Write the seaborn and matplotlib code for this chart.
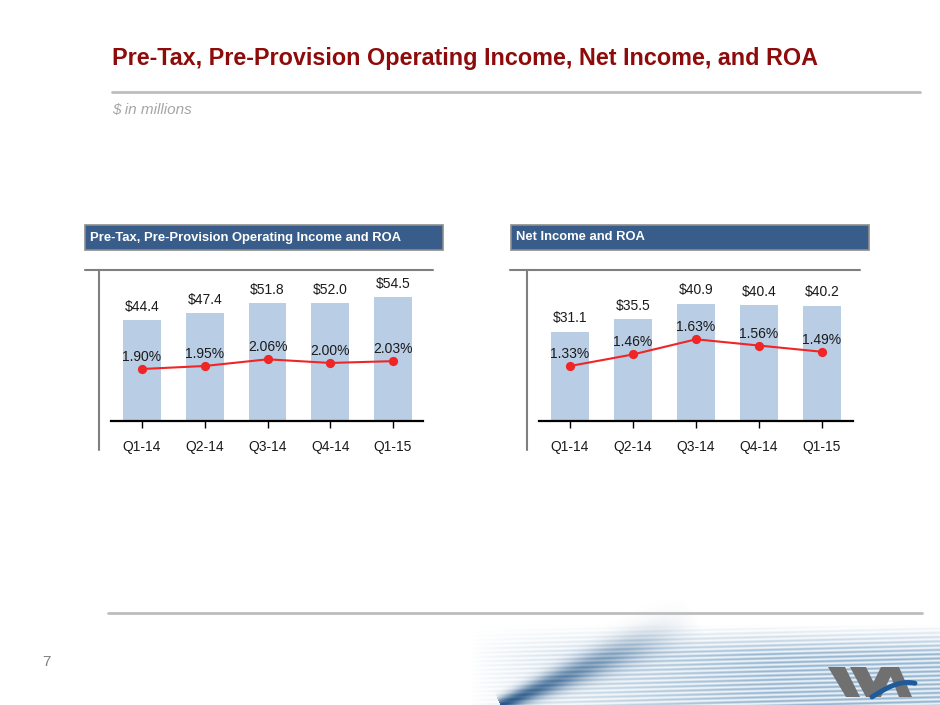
import numpy as np
import pandas as pd
import matplotlib
matplotlib.use("Agg")
import matplotlib.pyplot as plt
import seaborn as sns
from matplotlib.patches import Rectangle, Polygon

# ---- data ----
quarters = ["Q1-14", "Q2-14", "Q3-14", "Q4-14", "Q1-15"]
pppoi = [44.4, 47.4, 51.8, 52.0, 54.5]
pppoi_roa = [1.90, 1.95, 2.06, 2.00, 2.03]
net_income = [31.1, 35.5, 40.9, 40.4, 40.2]
net_roa = [1.33, 1.46, 1.63, 1.56, 1.49]

title = "Pre-Tax, Pre-Provision Operating Income, Net Income, and ROA"
subtitle = "$ in millions"
header_left = "Pre-Tax, Pre-Provision Operating Income and ROA"
header_right = "Net Income and ROA"

sns.set_theme(style="white")
plt.rcParams['font.family'] = ['Liberation Sans', 'DejaVu Sans']

W, H = 940, 705
fig = plt.figure(figsize=(9.4, 7.05), dpi=100)
fig.patch.set_facecolor("white")
bg = fig.add_axes([0, 0, 1, 1], zorder=0)
bg.set_xlim(0, W)
bg.set_ylim(H, 0)
bg.axis('off')


def fx(x):
    return x / W


def fy(y):
    return 1 - y / H


# ---- decorative bottom stripes ----
ys = np.arange(600, 706)
xs = np.arange(300, 941)
X, Y = np.meshgrid(xs, ys)
phase = Y + (X - 940) * 0.025
stripe = 0.5 + 0.5 * np.cos(2 * np.pi * phase / 4.3)
wx = np.clip((X - 470) / 300, 0, 1) ** 0.8
wy = np.clip((Y - 624) / 30, 0, 1)
a_str = stripe * wx * wy * 0.6 + wx * wy * 0.15
# diagonal band
p0 = np.array([500.0, 705.0]); p1 = np.array([700.0, 618.0])
d = p1 - p0; L = np.hypot(*d); u = d / L; nrm = np.array([-u[1], u[0]])
t = ((X - p0[0]) * u[0] + (Y - p0[1]) * u[1]) / L
dist = (X - p0[0]) * nrm[0] + (Y - p0[1]) * nrm[1]
a_band = np.exp(-(dist / (7 + 14 * np.clip(t, 0, 1))) ** 2) * np.clip(1 - t, 0, 1) ** 1.2 * 0.9
a_band[t < 0] = 0
alpha = np.clip(a_str + a_band, 0, 1)
col_str = np.array([115, 158, 195]) / 255
col_band = np.array([30, 78, 128]) / 255
wb = a_band / np.maximum(alpha, 1e-6)
rgb = col_str[None, None, :] * (1 - wb[..., None]) + col_band[None, None, :] * wb[..., None]
img = np.dstack([rgb, alpha])
bg.imshow(img, extent=[300, 941, 706, 600], origin='upper', aspect='auto', zorder=0,
          interpolation='bilinear')
bg.set_xlim(0, W)
bg.set_ylim(H, 0)

# logo approximation
gray = "#707070"
for poly in [
    [(828, 667), (845, 667), (860, 697), (846, 697)],
    [(850, 667), (866, 667), (881, 697), (866, 697)],
    [(866, 697), (881, 697), (895, 667), (881, 667)],
    [(887, 667), (899, 667), (912, 697), (899, 697)],
]:
    bg.add_patch(Polygon(poly, closed=True, facecolor=gray, edgecolor="none", zorder=3))
tt = np.linspace(0, 1, 30)
arc_x = 872 + 43 * tt
arc_y = 697 - 18 * np.sin(tt * np.pi / 2 * 1.1) + 4 * tt
bg.plot(arc_x, arc_y, color="#1F5A99", lw=3.5, solid_capstyle='round', zorder=4)

# ---- title area ----
bg.text(112, 59, title, color="#8E0B0B", fontsize=16.8, fontweight="bold",
        va="center", ha="left")
bg.plot([112, 920], [92, 92], color="#BDBDBD", lw=2, zorder=1)
bg.text(112, 110, subtitle, color="#A6A6A6", fontsize=11, style="italic",
        va="center", ha="left")
bg.plot([108, 922], [613, 613], color="#BDBDBD", lw=2, zorder=1)
bg.text(42, 662, "7", color="#808080", fontsize=11, va="center", ha="left")


def panel(x0, x1, c0, spacing, header, hx0, hx1, vline_x, tl0, tl1,
          values, roa, ymax, rlim):
    base_y, top_y = 421, 270
    ax = fig.add_axes([fx(x0), fy(base_y), fx(x1) - fx(x0), fy(top_y) - fy(base_y)],
                      zorder=2)
    ax.patch.set_alpha(0)
    df = pd.DataFrame({"q": quarters, "v": values, "r": roa})
    sns.barplot(data=df, x="q", y="v", color="#B9CDE5", saturation=1, width=0.6,
                linewidth=0, errorbar=None, ax=ax)
    ax2 = ax.twinx()
    sns.pointplot(data=df, x="q", y="r", color="#F02525", markers="o",
                  markersize=5.5, linewidth=1.5, errorbar=None, ax=ax2)
    xlo = (x0 - c0) / spacing
    xhi = (x1 - c0) / spacing
    ax.set_xlim(xlo, xhi)
    ax2.set_xlim(xlo, xhi)
    ax.set_ylim(0, ymax)
    ax2.set_ylim(*rlim)
    for a in (ax, ax2):
        for s in ("top", "left", "right"):
            a.spines[s].set_visible(False)
        a.set_ylabel("")
        a.set_xlabel("")
        a.set_yticks([])
    ax2.spines["bottom"].set_visible(False)
    ax.spines["bottom"].set_color("black")
    ax.spines["bottom"].set_linewidth(1.6)
    ax.tick_params(axis="x", bottom=True, length=5, width=1, color="black",
                   direction="out", labelsize=10, pad=8.5, labelcolor="#1a1a1a")
    ax2.tick_params(axis="x", bottom=False, labelbottom=False)
    for i, v in enumerate(values):
        ax.annotate(f"${v:.1f}", (i, v), xytext=(0, 9.6), textcoords="offset points",
                    ha="center", va="center", fontsize=10, color="#1a1a1a")
    for i, r in enumerate(roa):
        ax2.annotate(f"{r:.2f}%", (i, r), xytext=(0, 8.6), textcoords="offset points",
                     ha="center", va="center", fontsize=10, color="#1a1a1a")
    # header box
    bg.add_patch(Rectangle((hx0, 225), hx1 - hx0, 25, facecolor="#385D8A",
                           edgecolor="#8C8C8C", lw=1.2, zorder=2))
    bg.text(hx0 + 5, 237.5, header, color="white", fontsize=9.4, fontweight="bold",
            va="center", ha="left", zorder=3)
    # frame lines
    bg.plot([tl0, tl1], [270, 270], color="#7F7F7F", lw=1.5, zorder=1)
    bg.plot([vline_x, vline_x], [270, 450], color="#7F7F7F", lw=1.5, zorder=1)
    return ax


panel(111, 423, 142, 62.75, header_left, 85, 443, 99, 85, 433,
      pppoi, pppoi_roa, 66.5, (1.042, 3.534))
panel(539, 853, 570, 63.0, header_right, 511, 869, 527, 510, 860,
      net_income, net_roa, 52.6, (0.712, 2.409))

fig.savefig("out.png", dpi=100, facecolor="white")
